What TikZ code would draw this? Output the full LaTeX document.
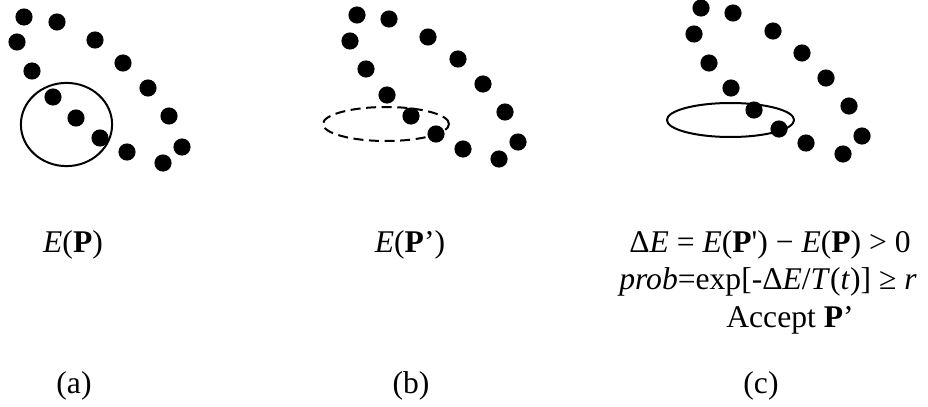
\documentclass[tikz,border=0pt]{standalone}
\usepackage{fontspec}
\setmainfont{Liberation Serif}
\usetikzlibrary{positioning}

\begin{document}
\begin{tikzpicture}[
  x=0.5pt, y=-0.5pt,
  dot/.style={fill=black},
  ring/.style={line width=1pt},
  dashring/.style={ring, dash pattern=on 5pt off 2.8pt},
  txt/.style={font=\fontsize{15.8}{19}\selectfont, inner sep=0pt, anchor=base}
]
  \useasboundingbox (0,0) rectangle (928,407);

  % (a) current configuration
  \begin{scope}
    \foreach \x/\y in {24/17,57/22,17/42,95/40,32/71,123/63,148/88,
                       53/97,169/116,76/118,100/138,182/147,127/152,163/163}
      \fill[dot] (\x,\y) circle[radius=4.3pt];
    \draw[ring] (66.5,124.5) ellipse[x radius=22.8pt, y radius=20.8pt];
    \node[txt] (ea) at (73,252) {\textit{E}(\textbf{P})};
    \node[txt] (la) at (74,393) {(a)};
  \end{scope}

  % (b) perturbed configuration
  \begin{scope}
    \foreach \x/\y in {357/15,389/19,350/41,428/37,366/69,458/59,387/95,
                       483/84,411/116,505/112,436/134,518/142,463/149,499/159}
      \fill[dot] (\x,\y) circle[radius=4.3pt];
    \draw[dashring] (386,124) ellipse[x radius=31.5pt, y radius=8.5pt];
    \node[txt] (eb) at (410,252) {\textit{E}(\textbf{P}’)};
    \node[txt] (lb) at (411,393) {(b)};
  \end{scope}

  % (c) accepted move
  \begin{scope}
    \foreach \x/\y in {701/8,733/13,694/34,773/31,709/63,802/53,826/78,
                       731/88,849/106,754/110,779/129,862/136,806/143,843/154}
      \fill[dot] (\x,\y) circle[radius=4.3pt];
    \draw[ring] (730.5,120) ellipse[x radius=31.8pt, y radius=8.5pt];
    \node[txt] (dE) at (770,252)
      {Δ\textit{E}\ =\ \textit{E}(\textbf{P}\textquotesingle)\ −\ \textit{E}(\textbf{P})\ >\ 0};
    \node[txt] (prob) at (768,289)
      {\textit{prob}=exp[-Δ\textit{E}/\textit{T}(\textit{t})] ≥ \textit{r}};
    \node[txt] (acc) at (790,327) {Accept \textbf{P}’};
    \node[txt] (lc) at (761,393) {(c)};
  \end{scope}
\end{tikzpicture}
\end{document}
